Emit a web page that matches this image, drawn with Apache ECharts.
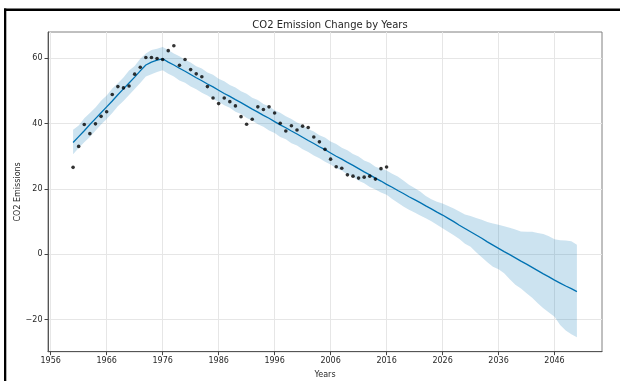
<!DOCTYPE html>
<html>
<head>
<meta charset="utf-8">
<script src="https://cdn.jsdelivr.net/npm/echarts@6/dist/echarts.min.js"></script>
<style>
html,body{margin:0;padding:0;background:#fff;}
#chart{width:620px;height:381px;}
</style>
</head>
<body>
<div id="chart"></div>
<script>
// Observed yearly values (black dots)
const obsYears = [1960,1961,1962,1963,1964,1965,1966,1967,1968,1969,1970,1971,1972,1973,1974,1975,1976,1977,1978,1979,1980,1981,1982,1983,1984,1985,1986,1987,1988,1989,1990,1991,1992,1993,1994,1995,1996,1997,1998,1999,2000,2001,2002,2003,2004,2005,2006,2007,2008,2009,2010,2011,2012,2013,2014,2015,2016];
const obsValues = [26.6,33.0,39.7,36.9,39.9,42.2,43.6,48.9,51.3,50.9,51.5,55.1,57.2,60.2,60.2,59.9,59.6,62.3,63.8,57.8,59.6,56.5,55.2,54.3,51.3,47.8,46.1,47.8,46.7,45.4,42.1,39.8,41.3,45.1,44.3,45.1,43.2,40.1,37.7,39.3,38.0,39.2,38.8,35.9,34.4,32.1,29.1,26.8,26.3,24.3,23.9,23.3,23.6,23.9,23.0,26.2,26.7];

// Forecast years and model fit / forecast
const fcYears = [1960,1961,1962,1963,1964,1965,1966,1967,1968,1969,1970,1971,1972,1973,1974,1975,1976,1977,1978,1979,1980,1981,1982,1983,1984,1985,1986,1987,1988,1989,1990,1991,1992,1993,1994,1995,1996,1997,1998,1999,2000,2001,2002,2003,2004,2005,2006,2007,2008,2009,2010,2011,2012,2013,2014,2015,2016,2017,2018,2019,2020,2021,2022,2023,2024,2025,2026,2027,2028,2029,2030,2031,2032,2033,2034,2035,2036,2037,2038,2039,2040,2041,2042,2043,2044,2045,2046,2047,2048,2049,2050];
const yhat = [34.2,36.0,37.8,39.7,41.5,43.3,45.1,46.9,48.8,50.6,52.4,54.2,56.1,57.9,58.8,59.4,59.8,58.8,57.9,56.9,56.0,55.0,54.0,53.1,52.1,51.2,50.2,49.2,48.3,47.3,46.4,45.4,44.4,43.5,42.5,41.6,40.6,39.6,38.7,37.7,36.8,35.8,34.8,33.9,32.9,32.0,31.0,30.0,29.1,28.1,27.2,26.2,25.2,24.3,23.3,22.4,21.4,20.5,19.5,18.6,17.6,16.7,15.8,14.8,13.9,12.9,12.0,11.0,10.0,8.9,7.9,6.9,5.9,4.9,3.8,2.8,1.8,0.8,-0.1,-1.1,-2.1,-3.0,-4.0,-5.0,-6.0,-6.9,-7.9,-8.8,-9.7,-10.5,-11.4];
const yhatUpper = [38.1,39.4,41.6,43.2,44.9,47.0,48.6,50.7,52.3,54.1,56.2,57.6,59.8,61.4,62.5,62.9,63.4,62.5,61.4,60.6,59.5,58.7,57.5,56.8,55.6,54.9,53.7,52.9,51.8,51.0,49.9,49.1,47.9,47.2,46.0,45.3,44.1,43.3,42.2,41.4,40.3,39.5,38.3,37.6,36.4,35.7,34.5,33.7,32.6,31.8,30.7,29.9,28.7,28.0,26.8,26.2,25.6,24.6,23.8,22.6,21.3,20.3,19.2,17.8,16.8,16.1,15.5,14.8,14.0,13.1,12.2,11.7,11.1,10.6,9.9,9.4,9.0,8.6,8.1,7.6,7.0,6.9,6.9,6.5,6.2,5.5,4.6,4.3,4.2,4.0,2.9];
const yhatLower = [30.6,32.5,34.3,35.9,37.8,39.7,41.4,43.2,45.3,46.9,48.7,50.6,52.4,54.4,55.1,55.8,56.3,55.2,54.4,53.2,52.5,51.3,50.5,49.4,48.6,47.5,46.7,45.6,44.8,43.6,42.9,41.7,40.9,39.8,39.0,37.9,37.1,35.9,35.2,34.0,33.3,32.1,31.3,30.2,29.4,28.3,27.5,26.3,25.6,24.4,23.7,22.5,21.7,20.6,19.8,18.9,18.2,16.9,15.8,14.6,13.6,12.8,11.9,11.0,10.1,9.0,8.0,6.9,5.8,4.7,3.2,2.3,0.6,-0.9,-2.4,-3.8,-4.6,-5.8,-7.6,-9.3,-10.5,-11.9,-13.3,-15.0,-16.5,-17.8,-19.1,-21.6,-23.3,-24.5,-25.4];

// Tick labels
const xTicks = [1956,1966,1976,1986,1996,2006,2016,2026,2036,2046];
const yTicks = [-20,0,20,40,60];

const chart = echarts.init(document.getElementById('chart'), null, {renderer:'canvas'});

const bandPoly = [];
for (let i = 0; i < fcYears.length; i++) bandPoly.push([fcYears[i], yhatUpper[i]]);
for (let i = fcYears.length - 1; i >= 0; i--) bandPoly.push([fcYears[i], yhatLower[i]]);

const FONT = 'DejaVu Sans';
const TXT = '#262626';

chart.setOption({
  animation: false,
  backgroundColor: '#ffffff',
  title: {
    text: 'CO2 Emission Change by Years',
    left: 325,
    top: 15,
    textAlign: 'center',
    textStyle: {fontFamily: FONT, fontSize: 10, fontWeight: 'normal', color: TXT}
  },
  graphic: [
    {type: 'rect', shape: {x: 4, y: 8.6, width: 620, height: 2.3}, style: {fill: '#000'}, z: 100},
    {type: 'rect', shape: {x: 4, y: 8.6, width: 2.3, height: 380}, style: {fill: '#000'}, z: 100}
  ],
  grid: {
    left: 48, top: 32, right: 18, bottom: 29.3,
    outerBoundsMode: 'none', containLabel: false,
    show: true, borderColor: '#808080', borderWidth: 1, backgroundColor: 'transparent'
  },
  xAxis: {
    type: 'value',
    min: 1955.52, max: 2054.48,
    name: 'Years', nameLocation: 'middle', nameGap: 19.5, nameMoveOverlap: false,
    nameTextStyle: {fontFamily: FONT, fontSize: 8, color: TXT},
    axisLine: {show: true, onZero: false, lineStyle: {color: '#555', width: 1}},
    axisTick: {show: true, length: 3.5, customValues: xTicks, lineStyle: {color: '#444'}},
    axisLabel: {customValues: xTicks, formatter: v => String(v), fontFamily: FONT, fontSize: 8, color: TXT, margin: 5.5},
    splitLine: {show: true, lineStyle: {color: '#e6e6e6', width: 1}}
  },
  yAxis: {
    type: 'value',
    min: -29.8, max: 68,
    name: 'CO2 Emissions', nameLocation: 'middle', nameGap: 26, nameMoveOverlap: false,
    nameTextStyle: {fontFamily: FONT, fontSize: 8, color: TXT},
    axisLine: {show: true, onZero: false, lineStyle: {color: '#555', width: 1}},
    axisTick: {show: true, length: 3.5, customValues: yTicks, lineStyle: {color: '#444'}},
    axisLabel: {customValues: yTicks, formatter: v => (v < 0 ? '\u2212' + Math.abs(v) : String(v)), fontFamily: FONT, fontSize: 8, color: TXT, margin: 5.5},
    splitLine: {show: true, lineStyle: {color: '#e6e6e6', width: 1}}
  },
  series: [
    {
      type: 'custom',
      name: 'band',
      coordinateSystem: 'cartesian2d',
      data: [[fcYears[0], yhat[0]]],
      renderItem: function (params, api) {
        const pts = bandPoly.map(p => api.coord(p));
        return {type: 'polygon', shape: {points: pts}, style: {fill: 'rgba(0,114,178,0.2)', stroke: 'none'}};
      },
      clip: true, silent: true, z: 1
    },
    {
      type: 'line',
      name: 'yhat',
      data: fcYears.map((y, i) => [y, yhat[i]]),
      showSymbol: false, symbol: 'none',
      lineStyle: {color: '#0072B2', width: 1.3},
      z: 2
    },
    {
      type: 'scatter',
      name: 'obs',
      data: obsYears.map((y, i) => [y, obsValues[i]]),
      symbol: 'circle', symbolSize: 3.6,
      itemStyle: {color: '#000'},
      z: 3
    }
  ]
});
</script>
</body>
</html>
